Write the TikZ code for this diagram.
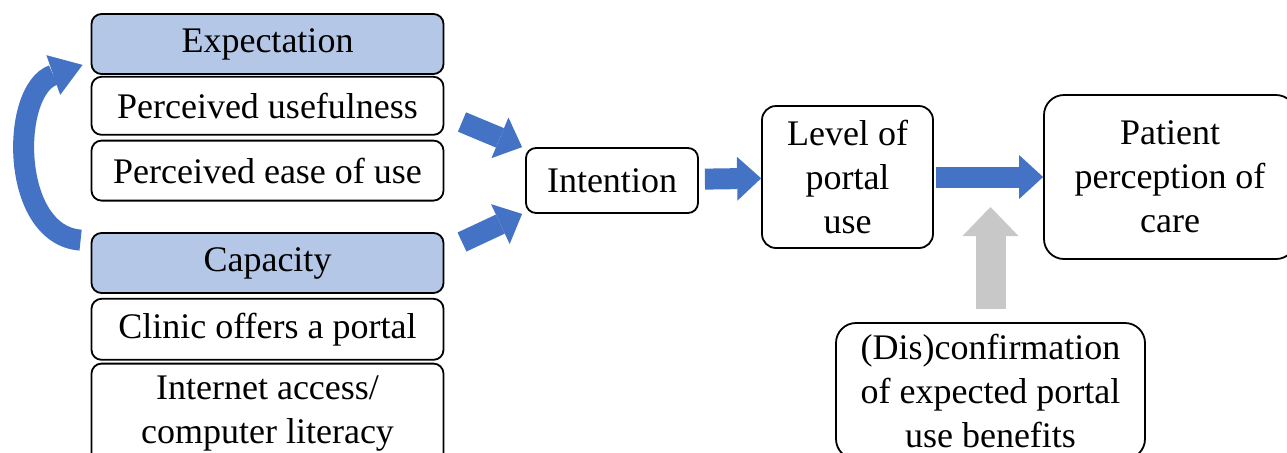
\documentclass[tikz,border=0pt]{standalone}
\usepackage{fontspec}
\setmainfont{Liberation Serif}
\usetikzlibrary{positioning,arrows.meta}
\definecolor{headblue}{HTML}{B4C7E7}
\definecolor{arrowblue}{HTML}{4472C4}
\definecolor{arrowgray}{HTML}{C8C8C8}

\begin{document}
\begin{tikzpicture}[x=0.5pt, y=-0.5pt,
    box/.style={draw, line width=0.9pt, rounded corners=5pt, align=center, inner sep=0pt, font=\fontsize{18}{22}\selectfont},
    listbox/.style={box, minimum width=176pt, minimum height=30pt},
    headbox/.style={listbox, fill=headblue},
    blockarrow/.style={arrowblue, line width=10.5pt, -{Triangle[length=12pt, width=22pt, line width=0pt]}},
    grayarrow/.style={arrowgray, line width=15pt, -{Triangle[length=14.5pt, width=28pt, line width=0pt]}}]
    \useasboundingbox (0,0) rectangle (1287,452);
    \clip (0,0) rectangle (1287,452);

    % left column
    \node[headbox] (expect) at (267.5,44) {Expectation};
    \node[listbox, below=0.5pt of expect, minimum height=29pt] (useful) {Perceived usefulness};
    \node[listbox, below=2pt of useful] (ease) {Perceived ease of use};
    \node[headbox] (capacity) at (267.5,263) {Capacity};
    \node[listbox, below=2pt of capacity, minimum height=30.5pt] (clinic) {Clinic offers a portal};
    \node[listbox, below=1pt of clinic, minimum height=50pt] (internet) {Internet access/\\computer literacy};

    % right part
    \node[box, minimum width=86pt, minimum height=32.5pt] (intent) at (612,180.5) {Intention};
    \node[box, rounded corners=7pt, minimum width=85.5pt, minimum height=71pt] (level) at (847.5,177) {Level of\\portal\\use};
    \node[box, rounded corners=10pt, minimum width=126pt, minimum height=82pt] (patient) at (1170,177) {Patient\\perception of\\care};
    \node[box, rounded corners=10pt, minimum width=154.5pt, minimum height=68pt] (conf) at (990.5,391) {(Dis)confirmation\\of expected portal\\use benefits};

    % arrows
    \draw[blockarrow] (462,122) -- ([xshift=-1.5pt]intent.north west);
    \draw[blockarrow] (462,242) -- ([xshift=-1.5pt]intent.south west);
    \draw[blockarrow, shorten <=3pt] (intent) -- (level);
    \draw[blockarrow, shorten <=1pt] (level) -- (patient);
    \draw[grayarrow, shorten <=6.5pt] (conf.north) -- (990.5,207);
    \draw[blockarrow, -{Triangle[length=15.5pt, width=21pt, line width=0pt]}]
        ([xshift=-5pt, yshift=-4pt]capacity.north west) .. controls (10,235) and (10,90) .. ([xshift=-4pt, yshift=5pt]expect.south west);
\end{tikzpicture}
\end{document}
